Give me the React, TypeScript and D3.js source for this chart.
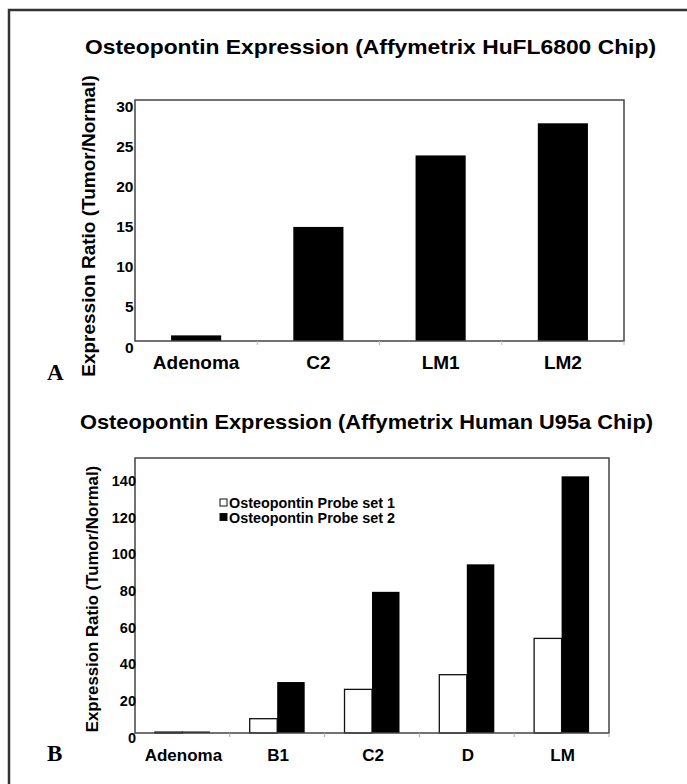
import React, { useEffect, useRef } from 'react';
import * as d3 from 'd3';

// panel A: HuFL6800 chip
const chipACategories = ['Adenoma', 'C2', 'LM1', 'LM2'];
const chipAValues = [0.7, 14.2, 23.1, 27.1];
const chipATicks = [0, 5, 10, 15, 20, 25, 30];

// panel B: U95a chip, two probe sets
const chipBCategories = ['Adenoma', 'B1', 'C2', 'D', 'LM'];
const probeSet1 = [0.5, 7.8, 23.8, 31.8, 51.6];
const probeSet2 = [0.8, 27.8, 77, 92, 140];
const chipBTicks = [0, 20, 40, 60, 80, 100, 120, 140];
const seriesNames = ['Osteopontin Probe set 1', 'Osteopontin Probe set 2'];

const W = 687;
const H = 784;
const SANS = '"Liberation Sans", Arial, sans-serif';
const SERIF = '"Liberation Serif", "Times New Roman", serif';

const App: React.FC = () => {
  const svgRef = useRef<SVGSVGElement | null>(null);

  useEffect(() => {
    const svg = d3.select(svgRef.current);
    svg.selectAll('*').remove();

    // outer figure border (only left and top are in frame)
    svg.append('path')
      .attr('d', `M9,${H + 5} L9,10 L${W + 5},10`)
      .attr('fill', 'none')
      .attr('stroke', '#333')
      .attr('stroke-width', 2.5);

    // ---------- panel A ----------
    const a = { left: 135, right: 624, top: 100, bottom: 341 };
    const gA = svg.append('g');

    const xA = d3.scaleBand<string>()
      .domain(chipACategories)
      .range([a.left, a.right])
      .paddingInner(0.59)
      .paddingOuter(0.295);

    const yA = d3.scaleLinear().domain([0, 30]).range([a.bottom, a.top]);

    gA.append('text')
      .attr('x', 85)
      .attr('y', 54)
      .attr('font-family', SANS)
      .attr('font-weight', 'bold')
      .attr('font-size', 20.5)
      .attr('textLength', 571)
      .attr('lengthAdjust', 'spacingAndGlyphs')
      .text('Osteopontin Expression (Affymetrix HuFL6800 Chip)');

    gA.selectAll('rect.bar')
      .data(chipAValues)
      .join('rect')
      .attr('class', 'bar')
      .attr('x', (_, i) => xA(chipACategories[i]) ?? 0)
      .attr('y', d => yA(d))
      .attr('width', xA.bandwidth())
      .attr('height', d => yA(0) - yA(d))
      .attr('fill', '#000');

    gA.append('rect')
      .attr('x', a.left)
      .attr('y', a.top)
      .attr('width', a.right - a.left)
      .attr('height', a.bottom - a.top)
      .attr('fill', 'none')
      .attr('stroke', '#444')
      .attr('stroke-width', 1.5);

    const stepA = (a.right - a.left) / chipACategories.length;
    gA.selectAll('line.xtick')
      .data(d3.range(1, chipACategories.length + 1))
      .join('line')
      .attr('class', 'xtick')
      .attr('x1', i => a.left + i * stepA)
      .attr('x2', i => a.left + i * stepA)
      .attr('y1', a.bottom)
      .attr('y2', a.bottom + 4)
      .attr('stroke', '#bbb');

    gA.selectAll('text.ytick')
      .data(chipATicks)
      .join('text')
      .attr('class', 'ytick')
      .attr('x', a.left - 1.5)
      .attr('y', d => yA(d) + 6)
      .attr('dy', '0.36em')
      .attr('text-anchor', 'end')
      .attr('font-family', SANS)
      .attr('font-weight', 'bold')
      .attr('font-size', 15.5)
      .text(d => d);

    gA.selectAll('text.xlabel')
      .data(chipACategories)
      .join('text')
      .attr('class', 'xlabel')
      .attr('x', d => (xA(d) ?? 0) + xA.bandwidth() / 2)
      .attr('y', 369)
      .attr('text-anchor', 'middle')
      .attr('font-family', SANS)
      .attr('font-weight', 'bold')
      .attr('font-size', 19)
      .text(d => d);

    gA.append('text')
      .attr('transform', 'translate(95,226) rotate(-90)')
      .attr('text-anchor', 'middle')
      .attr('font-family', SANS)
      .attr('font-weight', 'bold')
      .attr('font-size', 19)
      .text('Expression Ratio (Tumor/Normal)');

    gA.append('text')
      .attr('x', 47)
      .attr('y', 380)
      .attr('font-family', SERIF)
      .attr('font-weight', 'bold')
      .attr('font-size', 23)
      .text('A');

    // ---------- panel B ----------
    const b = { left: 135, right: 609, top: 458, bottom: 733 };
    const gB = svg.append('g');

    const xB = d3.scaleBand<string>()
      .domain(chipBCategories)
      .range([b.left, b.right])
      .padding(0);
    const bw = xB.bandwidth();
    const xInner = d3.scaleBand<number>()
      .domain([0, 1])
      .range([0.21 * bw, 0.79 * bw])
      .padding(0);

    const yB = d3.scaleLinear().domain([0, 150]).range([b.bottom, b.top]);

    gB.append('text')
      .attr('x', 80)
      .attr('y', 429)
      .attr('font-family', SANS)
      .attr('font-weight', 'bold')
      .attr('font-size', 20.5)
      .attr('textLength', 573)
      .attr('lengthAdjust', 'spacingAndGlyphs')
      .text('Osteopontin Expression (Affymetrix Human U95a Chip)');

    const rows = chipBCategories.flatMap((c, i) => [
      { cat: c, s: 0, v: probeSet1[i] },
      { cat: c, s: 1, v: probeSet2[i] },
    ]);

    gB.selectAll('rect.bar')
      .data(rows)
      .join('rect')
      .attr('class', 'bar')
      .attr('x', d => (xB(d.cat) ?? 0) + (xInner(d.s) ?? 0))
      .attr('y', d => yB(d.v))
      .attr('width', xInner.bandwidth())
      .attr('height', d => yB(0) - yB(d.v))
      .attr('fill', d => (d.s === 0 ? '#fff' : '#000'))
      .attr('stroke', '#111')
      .attr('stroke-width', d => (d.s === 0 ? 1.3 : 0));

    gB.append('rect')
      .attr('x', b.left)
      .attr('y', b.top)
      .attr('width', b.right - b.left)
      .attr('height', b.bottom - b.top)
      .attr('fill', 'none')
      .attr('stroke', '#444')
      .attr('stroke-width', 1.5);

    gB.selectAll('line.xtick')
      .data(d3.range(1, chipBCategories.length + 1))
      .join('line')
      .attr('class', 'xtick')
      .attr('x1', i => b.left + i * bw)
      .attr('x2', i => b.left + i * bw)
      .attr('y1', b.bottom)
      .attr('y2', b.bottom + 4)
      .attr('stroke', '#aaa');

    gB.selectAll('text.ytick')
      .data(chipBTicks)
      .join('text')
      .attr('class', 'ytick')
      .attr('x', b.left + 1)
      .attr('y', d => yB(d) + 4.5)
      .attr('dy', '0.36em')
      .attr('text-anchor', 'end')
      .attr('font-family', SANS)
      .attr('font-weight', 'bold')
      .attr('font-size', 14.5)
      .text(d => d);

    gB.selectAll('text.xlabel')
      .data(chipBCategories)
      .join('text')
      .attr('class', 'xlabel')
      .attr('x', d => (xB(d) ?? 0) + bw / 2 + 1)
      .attr('y', 761)
      .attr('text-anchor', 'middle')
      .attr('font-family', SANS)
      .attr('font-weight', 'bold')
      .attr('font-size', 17)
      .text(d => d);

    gB.append('text')
      .attr('transform', 'translate(98,599) rotate(-90)')
      .attr('text-anchor', 'middle')
      .attr('font-family', SANS)
      .attr('font-weight', 'bold')
      .attr('font-size', 16.8)
      .text('Expression Ratio (Tumor/Normal)');

    gB.append('text')
      .attr('x', 47)
      .attr('y', 761)
      .attr('font-family', SERIF)
      .attr('font-weight', 'bold')
      .attr('font-size', 23)
      .text('B');

    // legend
    const legend = gB.selectAll('g.legend')
      .data(seriesNames)
      .join('g')
      .attr('class', 'legend')
      .attr('transform', (_, i) => `translate(220,${503 + i * 14.5})`);

    legend.append('rect')
      .attr('x', 0)
      .attr('y', -4)
      .attr('width', 7)
      .attr('height', 7)
      .attr('fill', (_, i) => (i === 0 ? '#fff' : '#000'))
      .attr('stroke', '#111')
      .attr('stroke-width', 1);

    legend.append('text')
      .attr('x', 9)
      .attr('y', 0)
      .attr('dy', '0.36em')
      .attr('font-family', SANS)
      .attr('font-weight', 'bold')
      .attr('font-size', 14)
      .attr('textLength', 166)
      .attr('lengthAdjust', 'spacingAndGlyphs')
      .text(d => d);
  }, []);

  return (
    <svg
      ref={svgRef}
      width={W}
      height={H}
      style={{ position: 'absolute', left: 0, top: 0, background: '#fff' }}
    />
  );
};

export default App;
